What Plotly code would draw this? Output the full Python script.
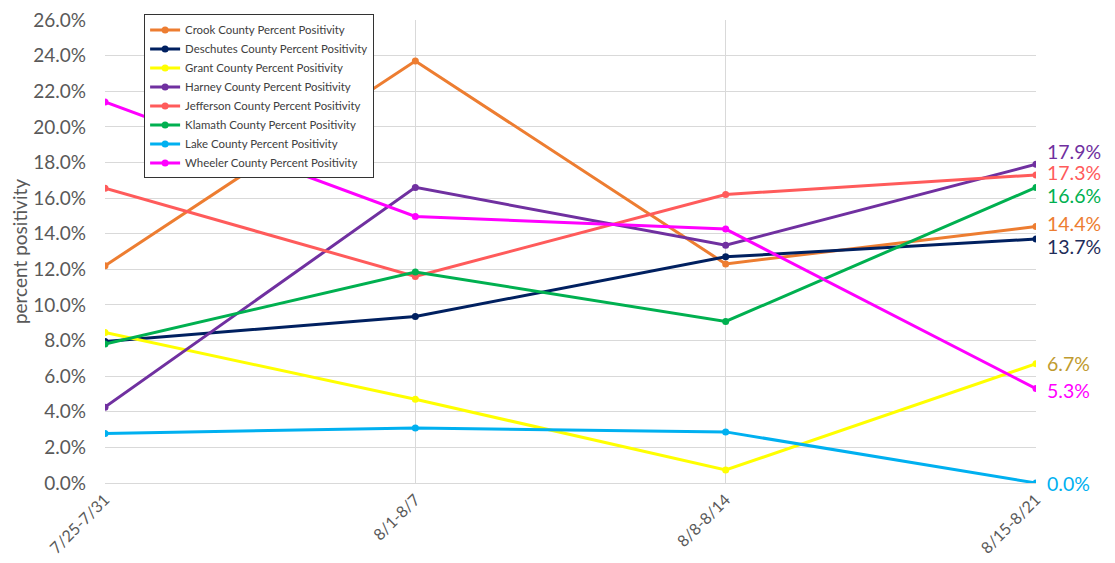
import plotly.graph_objects as go

weeks = ["7/25-7/31", "8/1-8/7", "8/8-8/14", "8/15-8/21"]

crook = [12.2, 23.7, 12.3, 14.4]
deschutes = [7.95, 9.35, 12.7, 13.7]
grant = [8.45, 4.7, 0.73, 6.7]
harney = [4.26, 16.6, 13.35, 17.9]
jefferson = [16.55, 11.6, 16.2, 17.3]
klamath = [7.8, 11.85, 9.07, 16.6]
lake = [2.78, 3.09, 2.87, 0.0]
wheeler = [21.4, 14.97, 14.26, 5.3]

names = ["Crook County Percent Positivity", "Deschutes County Percent Positivity",
         "Grant County Percent Positivity", "Harney County Percent Positivity",
         "Jefferson County Percent Positivity", "Klamath County Percent Positivity",
         "Lake County Percent Positivity", "Wheeler County Percent Positivity"]
series = [crook, deschutes, grant, harney, jefferson, klamath, lake, wheeler]
colors = ["#ED7D31", "#002060", "#FFFF00", "#7030A0", "#FF5B5B", "#00B050", "#00B0F0", "#FF00FF"]
label_colors = ["#ED7D31", "#1F2D5A", "#BF9B30", "#7030A0", "#FF5B5B", "#00B050", "#00B0F0", "#FF00FF"]
label_yshift = [3, -7, 0, 13, 2, -8, 0, -2]

fig = go.Figure()
for n, s, c in zip(names, series, colors):
    fig.add_trace(go.Scatter(
        x=weeks, y=[v / 100 for v in s], name=n, mode="lines+markers",
        line=dict(color=c, width=3), marker=dict(color=c, size=7),
    ))

for s, c, sh in zip(series, label_colors, label_yshift):
    fig.add_annotation(
        x=weeks[-1], y=s[-1] / 100, text=f"{s[-1]:.1f}%", showarrow=False,
        xanchor="left", yanchor="middle", xshift=10, yshift=sh,
        font=dict(family="Lato", size=19.5, color=c), borderpad=0,
    )

fig.update_layout(
    width=1115, height=563,
    margin=dict(l=97, r=87, t=12, b=88, autoexpand=False),
    paper_bgcolor="white", plot_bgcolor="white",
    font=dict(family="Lato", color="#595959"),
    showlegend=True,
    legend=dict(
        x=0.042, y=1.012, xanchor="left", yanchor="top",
        bgcolor="white", bordercolor="#333333", borderwidth=1,
        font=dict(family="Lato", size=11.4, color="#404040"),
        itemwidth=30, tracegroupgap=0,
    ),
)
fig.update_xaxes(
    type="category", range=[0, 3], showgrid=True, gridcolor="#D9D9D9",
    showline=True, linecolor="#D9D9D9", tickangle=-45, ticks="", automargin=False,
    tickfont=dict(family="Lato", size=16, color="#595959"), zeroline=False,
    ticklabeloverflow="allow",
)
fig.update_yaxes(
    range=[0, 0.26], dtick=0.02, tickformat=".1%", showgrid=True, gridcolor="#D9D9D9",
    zeroline=False, ticks="", ticklabelstandoff=18, automargin=False,
    tickfont=dict(family="Lato", size=19, color="#595959"),
    ticklabeloverflow="allow",
    title=dict(text="percent positivity", font=dict(family="Lato", size=19, color="#595959"), standoff=6),
)

fig.write_html("out.html")
